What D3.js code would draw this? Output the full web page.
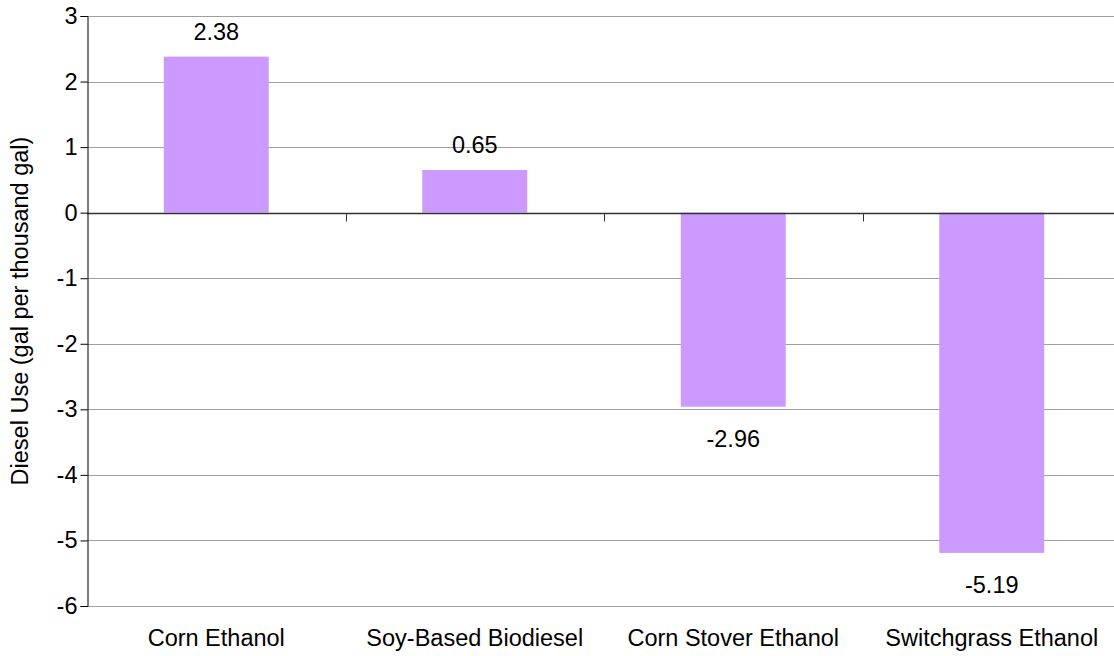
<!DOCTYPE html>
<html>
<head>
<meta charset="utf-8">
<script src="https://cdn.jsdelivr.net/npm/d3@7"></script>
<style>
  body { margin: 0; background: #fff; }
  text { font-family: "Liberation Sans", Arial, sans-serif; fill: #000; }
</style>
</head>
<body>
<script>
var categories = ["Corn Ethanol", "Soy-Based Biodiesel", "Corn Stover Ethanol", "Switchgrass Ethanol"];
var values = [2.38, 0.65, -2.96, -5.19];
var yTicks = [3, 2, 1, 0, -1, -2, -3, -4, -5, -6];

let margin = { top: 16, left: 87, right: -7, bottom: 50 };
let outerWidth = 1114;
let outerHeight = 656;
let width = outerWidth - margin.left - margin.right;
let height = 606 - margin.top;
let fontSize = "23.5px";

let svg = d3.select("body")
    .append("svg")
    .attr("width", outerWidth)
    .attr("height", outerHeight)
  .append("g")
    .attr("transform", "translate(" + margin.left + "," + margin.top + ")");

let xScale = d3.scaleBand()
    .domain(categories)
    .range([0, width])
    .paddingInner(0.594)
    .paddingOuter(0.297);

let yScale = d3.scaleLinear()
    .domain([3, -6])
    .range([0, height]);

// gridlines
svg.append("g").selectAll("line")
    .data(yTicks)
    .enter()
    .append("line")
    .attr("x1", 0)
    .attr("x2", width)
    .attr("y1", function(d) { return Math.round(yScale(d)) + 0.5; })
    .attr("y2", function(d) { return Math.round(yScale(d)) + 0.5; })
    .attr("stroke", "#a0a0a0")
    .attr("stroke-width", 1);

// bars
let data = categories.map(function(c, i) { return { name: c, value: values[i] }; });

svg.append("g").selectAll("rect")
    .data(data)
    .enter()
    .append("rect")
    .attr("x", function(d) { return xScale(d.name); })
    .attr("width", xScale.bandwidth())
    .attr("y", function(d) { return yScale(Math.max(0, d.value)); })
    .attr("height", function(d) { return Math.abs(yScale(d.value) - yScale(0)); })
    .attr("fill", "#cc99ff");

// zero line with category ticks
let zeroY = Math.round(yScale(0)) + 0.5;
svg.append("line")
    .attr("x1", 0).attr("x2", width)
    .attr("y1", zeroY).attr("y2", zeroY)
    .attr("stroke", "#333")
    .attr("stroke-width", 1.5);

let step = xScale.step();
let boundaries = categories.slice(1).map(function(c) { return xScale(c) - (step - xScale.bandwidth()) / 2; });
svg.append("g").selectAll("line")
    .data(boundaries)
    .enter()
    .append("line")
    .attr("x1", function(d) { return Math.round(d) + 0.5; })
    .attr("x2", function(d) { return Math.round(d) + 0.5; })
    .attr("y1", zeroY)
    .attr("y2", zeroY + 8)
    .attr("stroke", "#333")
    .attr("stroke-width", 1);

// y axis
let yAxis = d3.axisLeft(yScale)
    .tickValues(yTicks)
    .tickSize(7)
    .tickPadding(3)
    .tickFormat(function(d) { return String(d); });

let yAxisG = svg.append("g")
    .attr("transform", "translate(0.5,0)")
    .call(yAxis);
yAxisG.select(".domain").attr("stroke", "#000");
yAxisG.selectAll(".tick line").attr("stroke", "#000");
yAxisG.selectAll(".tick text")
    .style("font-size", fontSize)
    .style("font-family", "Liberation Sans, Arial, sans-serif")
    .attr("fill", "#000");

// value labels
svg.append("g").selectAll("text")
    .data(data)
    .enter()
    .append("text")
    .attr("x", function(d) { return xScale(d.name) + xScale.bandwidth() / 2; })
    .attr("y", function(d) {
        return d.value >= 0 ? yScale(d.value) - 17 : yScale(d.value) + 40;
    })
    .attr("text-anchor", "middle")
    .style("font-size", fontSize)
    .text(function(d) { return d.value.toFixed(2); });

// category labels
svg.append("g").selectAll("text")
    .data(categories)
    .enter()
    .append("text")
    .attr("x", function(d) { return xScale(d) + xScale.bandwidth() / 2; })
    .attr("y", height + 40)
    .attr("text-anchor", "middle")
    .style("font-size", fontSize)
    .text(function(d) { return d; });

// y axis title
svg.append("text")
    .attr("transform", "rotate(-90)")
    .attr("x", -height / 2)
    .attr("y", -59)
    .attr("text-anchor", "middle")
    .style("font-size", fontSize)
    .text("Diesel Use (gal per thousand gal)");
</script>
</body>
</html>
